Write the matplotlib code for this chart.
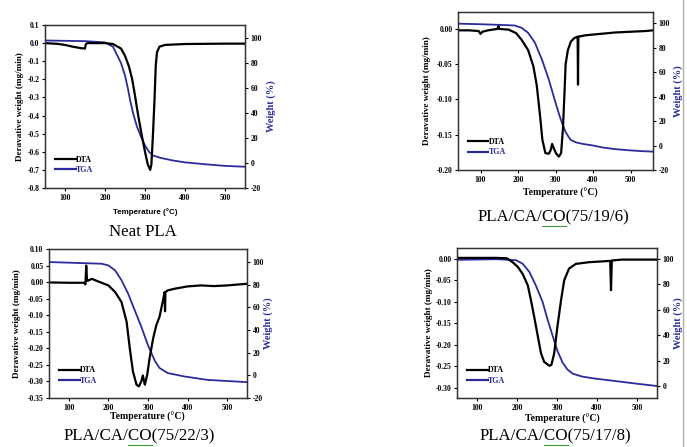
import matplotlib
matplotlib.use('Agg')
import matplotlib.pyplot as plt
from matplotlib.lines import Line2D

plt.rcParams['font.family'] = 'Liberation Serif'
plt.rcParams['axes.unicode_minus'] = False

W, H = 687, 447
BLUE = '#2b2b9e'

# Neat PLA
t_dta_1 = [50, 80, 100, 120, 140, 150, 152, 156, 180, 200, 220, 240, 250, 260, 268, 275, 283, 292, 300, 307, 313, 316, 320, 324, 327, 330, 336, 350, 400, 450, 500, 550]
dta_1 = [0.0, -0.004, -0.01, -0.02, -0.028, -0.03, -0.006, 0.0, 0.0, 0.0, -0.005, -0.03, -0.07, -0.13, -0.2, -0.29, -0.4, -0.51, -0.6, -0.67, -0.70, -0.67, -0.5, -0.3, -0.12, -0.05, -0.02, -0.01, -0.005, -0.004, -0.003, -0.003]
t_tga_1 = [50, 150, 200, 220, 240, 250, 257, 263, 270, 280, 290, 300, 310, 320, 340, 370, 400, 450, 500, 550]
tga_1 = [98, 97.5, 96.5, 93, 80, 70, 60, 50, 40, 29, 21, 14, 9, 6, 4, 2, 0.5, -1, -2.3, -3]

# PLA/CA/CO(75/19/6)
t_dta_2 = [40, 70, 95, 100, 105, 120, 145, 148, 150, 175, 195, 209, 227, 241, 250, 259, 265, 273, 282, 287, 291, 296, 302, 309, 315, 320, 324, 327, 333, 341, 350, 359, 360, 361, 380, 420, 460, 500, 540, 560]
dta_2 = [-0.002, -0.002, -0.003, -0.007, -0.004, -0.002, 0.0, 0.004, 0.0, -0.001, -0.006, -0.015, -0.03, -0.053, -0.08, -0.124, -0.157, -0.176, -0.177, -0.172, -0.163, -0.17, -0.177, -0.181, -0.176, -0.14, -0.09, -0.05, -0.03, -0.018, -0.013, -0.011, -0.079, -0.011, -0.009, -0.007, -0.005, -0.004, -0.003, -0.002]
t_tga_2 = [40, 100, 150, 191, 210, 227, 245, 264, 282, 300, 310, 318, 327, 335, 341, 355, 373, 400, 427, 460, 500, 530, 560]
tga_2 = [99.5, 99, 98.5, 98, 96, 92, 84, 70, 54, 35, 25, 18, 11, 7, 4.5, 2.5, 1.3, 0, -1.7, -3, -4, -4.6, -5]

# PLA/CA/CO(75/22/3)
t_dta_3 = [50, 100, 140, 142, 144, 146, 148, 158, 170, 183, 200, 217, 233, 246, 254, 262, 271, 277, 283, 287, 292, 298, 304, 313, 321, 329, 337, 342, 343, 344, 350, 367, 400, 433, 467, 500, 550]
dta_3 = [-0.001, -0.002, -0.002, -0.007, 0.05, 0.005, 0.004, 0.01, 0.004, -0.002, -0.01, -0.03, -0.06, -0.12, -0.2, -0.27, -0.31, -0.315, -0.3, -0.282, -0.31, -0.28, -0.23, -0.17, -0.13, -0.105, -0.06, -0.03, -0.088, -0.03, -0.025, -0.02, -0.013, -0.01, -0.012, -0.01, -0.005]
t_tga_3 = [50, 183, 200, 217, 233, 250, 267, 283, 300, 317, 329, 350, 392, 450, 550]
tga_3 = [100, 98.5, 97, 92.6, 84, 72, 57, 43, 26.5, 13, 6.5, 2, -1, -4, -6]

# PLA/CA/CO(75/17/8)
t_dta_4 = [50, 100, 150, 175, 189, 202, 214, 227, 235, 243, 252, 260, 268, 281, 286, 293, 301, 310, 318, 330, 347, 380, 433, 435, 437, 463, 500, 550]
dta_4 = [0.002, 0.002, 0.002, 0.001, -0.008, -0.019, -0.035, -0.062, -0.097, -0.135, -0.18, -0.22, -0.24, -0.249, -0.247, -0.22, -0.158, -0.097, -0.05, -0.023, -0.012, -0.008, -0.005, -0.073, -0.004, -0.002, -0.002, -0.002]
t_tga_4 = [50, 150, 198, 214, 231, 247, 264, 276, 289, 301, 314, 326, 339, 363, 396, 446, 500, 550]
tga_4 = [99, 99.5, 98.7, 96, 89.5, 79, 66, 52.6, 39.5, 27.6, 18.4, 13, 9.7, 7.4, 5.8, 3.9, 1.8, 0]

panels = [
    # rect in pixels (left, top, right, bottom), data, limits, ticks
    dict(px=(45, 25, 245, 188), dta=(t_dta_1, dta_1), tga=(t_tga_1, tga_1),
         xlim=(50, 550), ylim=(-0.8, 0.1), yticks=[0.1 - 0.1 * i for i in range(10)], yfmt='%.1f',
         ylim2=(-20, 110.4), yticks2=[-20, 0, 20, 40, 60, 80, 100],
         caption='Neat PLA', cap_xy=(143, 232), xlab_xy=(145, 212), sans=True,
         ylab_x=20, ylab2_x=271),
    dict(px=(458, 12, 653, 170), dta=(t_dta_2, dta_2), tga=(t_tga_2, tga_2),
         xlim=(40, 560), ylim=(-0.2, 0.024), yticks=[0.0, -0.05, -0.10, -0.15, -0.20], yfmt='%.2f',
         ylim2=(-20, 109), yticks2=[-20, 0, 20, 40, 60, 80, 100],
         caption='PLA/CA/CO(75/19/6)', cap_xy=(553, 217), xlab_xy=(560, 193), sans=False,
         ylab_x=427, ylab2_x=678),
    dict(px=(49, 249, 247, 398), dta=(t_dta_3, dta_3), tga=(t_tga_3, tga_3),
         xlim=(50, 550), ylim=(-0.35, 0.10), yticks=[0.10 - 0.05 * i for i in range(10)], yfmt='%.2f',
         ylim2=(-20, 111.5), yticks2=[-20, 0, 20, 40, 60, 80, 100],
         caption='PLA/CA/CO(75/22/3)', cap_xy=(139, 436), xlab_xy=(147, 417), sans=False,
         ylab_x=17, ylab2_x=268),
    dict(px=(457, 248, 657, 398), dta=(t_dta_4, dta_4), tga=(t_tga_4, tga_4),
         xlim=(50, 550), ylim=(-0.324, 0.025), yticks=[0.0, -0.05, -0.10, -0.15, -0.20, -0.25, -0.30], yfmt='%.2f',
         ylim2=(-9.4, 108.3), yticks2=[0, 20, 40, 60, 80, 100],
         caption='PLA/CA/CO(75/17/8)', cap_xy=(555, 436), xlab_xy=(562, 419), sans=False,
         ylab_x=429, ylab2_x=678),
]

CAP_SIZE = 12.2

fig = plt.figure(figsize=(W / 100, H / 100), dpi=100)

for p in panels:
    l, t, r, b = p['px']
    ax = fig.add_axes([l / W, 1 - b / H, (r - l) / W, (b - t) / H])
    ax.plot(*p['dta'], color='black', lw=1.6, label='DTA')
    ax.set_xlim(*p['xlim'])
    ax.set_ylim(*p['ylim'])
    ax.set_xticks([100, 200, 300, 400, 500])
    ax.set_yticks(p['yticks'])
    ax.set_yticklabels([p['yfmt'] % v if abs(v) > 1e-9 else p['yfmt'] % 0 for v in p['yticks']])
    ax.tick_params(labelsize=5.5, length=2.5, width=0.8, pad=1.5)
    for lab in ax.get_xticklabels() + ax.get_yticklabels():
        lab.set_fontweight('bold')
    for s in ax.spines.values():
        s.set_linewidth(1.0)
        s.set_color('#333333')

    ax2 = ax.twinx()
    ax2.plot(*p['tga'], color=BLUE, lw=1.3, label='TGA')
    ax2.set_ylim(*p['ylim2'])
    ax2.set_yticks(p['yticks2'])
    ax2.tick_params(labelsize=5.5, length=2.5, width=0.8, pad=1.5)
    for lab in ax2.get_yticklabels():
        lab.set_fontweight('bold')
    ax.set_zorder(ax2.get_zorder() + 1)
    ax.patch.set_visible(False)

    handles = [Line2D([0], [0], color='black', lw=1.6), Line2D([0], [0], color=BLUE, lw=1.6)]
    leg = ax.legend(handles, ['DTA', 'TGA'], loc='lower left', bbox_to_anchor=(0.02, 0.05),
                    frameon=False, prop={'weight': 'bold', 'size': 5.8},
                    handlelength=2.6, handletextpad=0.1, labelspacing=0.3, borderpad=0.2)
    leg.get_texts()[1].set_color(BLUE)

    yc = 1 - ((t + b) / 2) / H
    fig.text(p['ylab_x'] / W, yc, 'Deravative weight (mg/min)', rotation=90, ha='center', va='center',
             fontsize=6.6, fontweight='bold')
    fig.text(p['ylab2_x'] / W, yc, 'Weight (%)', rotation=90, ha='center', va='center',
             fontsize=7.5, fontweight='bold', color=BLUE)
    xl, yl = p['xlab_xy']
    if p['sans']:
        fig.text(xl / W, 1 - yl / H, 'Temperature (\u00b0C)', ha='center', va='center',
                 fontsize=5.8, fontweight='bold', family='Liberation Sans')
    else:
        fig.text(xl / W, 1 - yl / H, 'Temperature (\u00b0C)', ha='center', va='center',
                 fontsize=7, fontweight='bold')
    cx, cy = p['cap_xy']
    fig.text(cx / W, 1 - cy / H, p['caption'], ha='center', va='center', fontsize=CAP_SIZE)

# green spell-check underline under "CO" in the composite captions
renderer = fig.canvas.get_renderer()
for p in panels[1:]:
    cx, cy = p['cap_xy']
    full = fig.text(0, 0, p['caption'], fontsize=CAP_SIZE)
    pre = fig.text(0, 0, 'PLA/CA/', fontsize=CAP_SIZE)
    co = fig.text(0, 0, 'PLA/CA/CO', fontsize=CAP_SIZE)
    wf = full.get_window_extent(renderer).width
    wp = pre.get_window_extent(renderer).width
    wc = co.get_window_extent(renderer).width
    for tt in (full, pre, co):
        tt.remove()
    x0 = cx - wf / 2 + wp
    x1 = cx - wf / 2 + wc
    yy = cy + 9
    fig.add_artist(Line2D([x0 / W, x1 / W], [1 - yy / H, 1 - yy / H], color='#3a9a3a', lw=0.8))

# light frame line at the right edge of the page
fig.add_artist(Line2D([683 / W, 683 / W], [0, 1], color='#b0b0b0', lw=1.0))

fig.savefig('out.png', dpi=100)
